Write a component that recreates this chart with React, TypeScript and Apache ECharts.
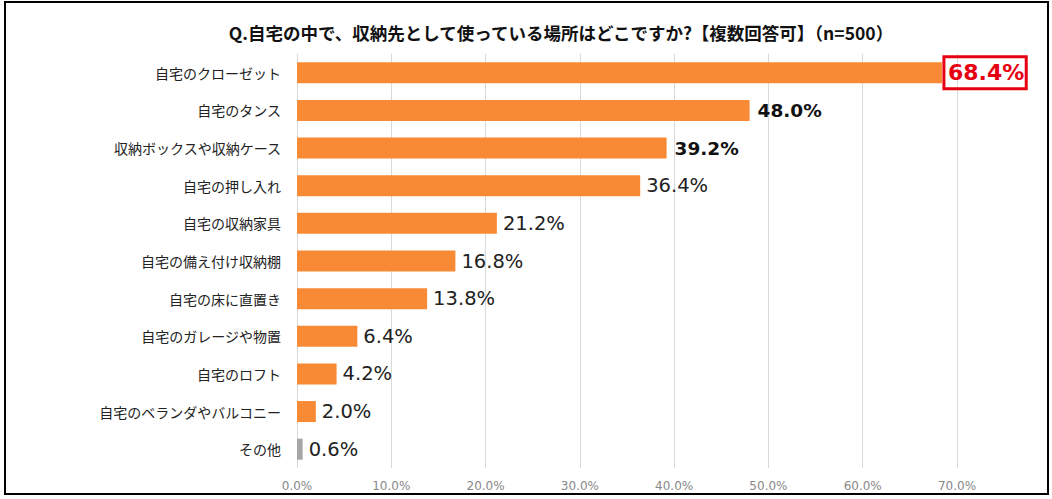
import React, { useEffect, useRef } from "react";
import * as echarts from "echarts";

const categories = [
  "自宅のクローゼット",
  "自宅のタンス",
  "収納ボックスや収納ケース",
  "自宅の押し入れ",
  "自宅の収納家具",
  "自宅の備え付け収納棚",
  "自宅の床に直置き",
  "自宅のガレージや物置",
  "自宅のロフト",
  "自宅のベランダやバルコニー",
  "その他",
];
const values = [68.4, 48.0, 39.2, 36.4, 21.2, 16.8, 13.8, 6.4, 4.2, 2.0, 0.6];
const xTicks = [0, 10, 20, 30, 40, 50, 60, 70];
const titleText = "Q.自宅の中で、収納先として使っている場所はどこですか?【複数回答可】（n=500）";

const ORANGE = "#F98A35";
const GRAY = "#A6A6A6";
const JP = '"Noto Sans CJK JP", "Noto Sans", sans-serif';
const NUM = '"DejaVu Sans", Verdana, sans-serif';

export default function App() {
  const ref = useRef<HTMLDivElement>(null);
  useEffect(() => {
    document.body.style.margin = "0";
    const chart = echarts.init(ref.current!, null, { renderer: "svg" });
    const data = values.map((v, i) => {
      const last = i === values.length - 1;
      let label: any;
      if (i === 0) {
        label = {
          show: true,
          position: "right",
          distance: 2,
          formatter: (p: any) => p.value.toFixed(1) + "%",
          color: "#E60012",
          fontFamily: NUM,
          fontWeight: "bold",
          fontSize: 22,
          borderColor: "#E60012",
          borderWidth: 3,
          padding: [6, 2, 4, 4],
        };
      } else if (i === 1 || i === 2) {
        label = {
          show: true,
          position: "right",
          distance: 8,
          formatter: (p: any) => p.value.toFixed(1) + "%",
          color: "#111",
          fontFamily: NUM,
          fontWeight: "bold",
          fontSize: 18.5,
        };
      } else {
        label = {
          show: true,
          position: "right",
          distance: 6,
          formatter: (p: any) => p.value.toFixed(1) + "%",
          color: "#222",
          fontFamily: NUM,
          fontSize: 19.5,
        };
      }
      return {
        value: v,
        itemStyle: { color: last ? GRAY : ORANGE },
        label,
      };
    });
    chart.setOption({
      animation: false,
      backgroundColor: "#fff",
      title: {
        text: titleText,
        left: 556,
        top: 19,
        textAlign: "center",
        textStyle: { fontFamily: JP, fontSize: 17.5, fontWeight: "bold", color: "#111" },
      },
      graphic: [
        {
          type: "rect",
          shape: { x: 5, y: 2, width: 1043, height: 492 },
          style: { fill: "none", stroke: "#000", lineWidth: 2 },
          silent: true,
        },
      ],
      grid: { left: 297, right: 1052 - 957, top: 54, bottom: 499 - 468, containLabel: false },
      xAxis: {
        type: "value",
        min: 0,
        max: 70,
        interval: 10,
        axisLine: { show: false },
        axisTick: { show: false },
        splitLine: { show: true, lineStyle: { color: "#D9D9D9", width: 1 } },
        axisLabel: {
          margin: 12,
          color: "#888",
          fontFamily: NUM,
          fontSize: 12,
          formatter: (v: number) => (xTicks.includes(v) ? v.toFixed(1) + "%" : ""),
        },
      },
      yAxis: {
        type: "category",
        inverse: true,
        data: categories,
        axisLine: { show: false },
        axisTick: { show: false },
        axisLabel: {
          margin: 16,
          color: "#222",
          fontFamily: JP,
          fontSize: 14,
        },
      },
      series: [
        {
          type: "bar",
          data,
          barWidth: 21,
        },
      ],
    });
    return () => chart.dispose();
  }, []);
  return <div ref={ref} style={{ width: 1052, height: 499 }} />;
}
